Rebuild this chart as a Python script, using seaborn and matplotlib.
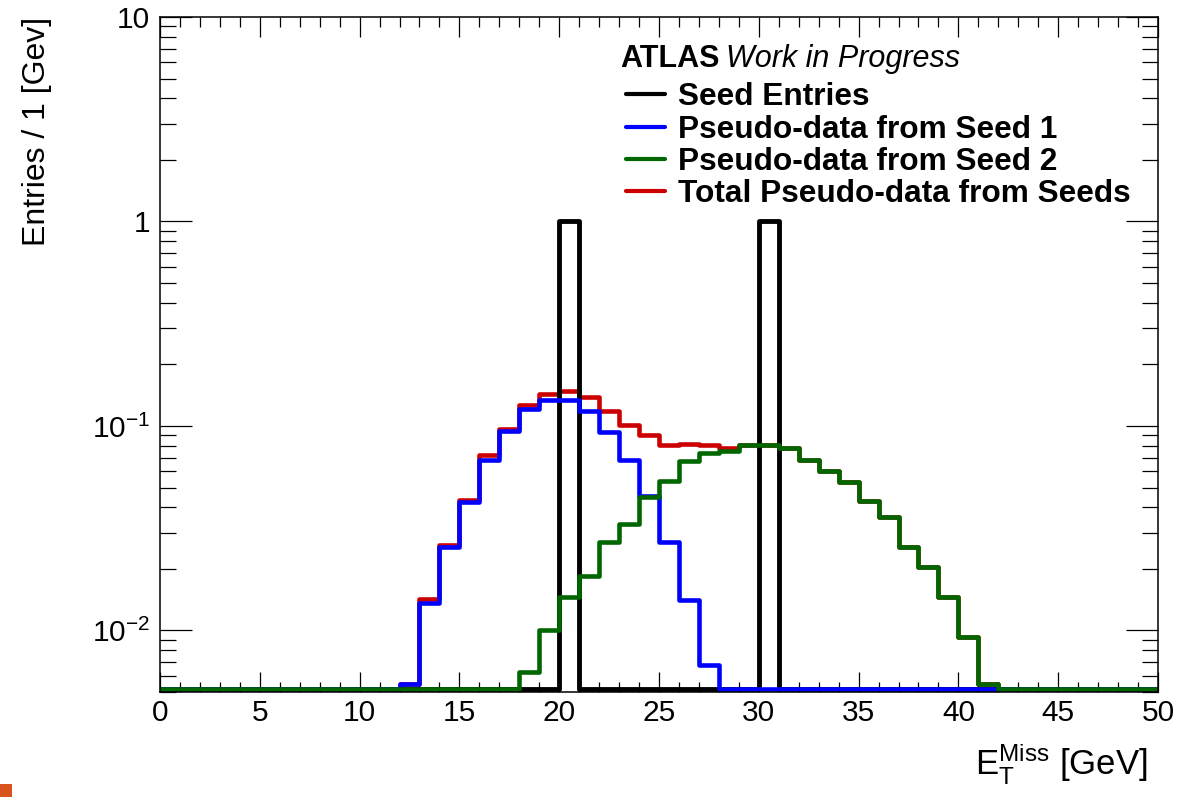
import numpy as np
import pandas as pd
import matplotlib
matplotlib.use("Agg")
import matplotlib.pyplot as plt
from matplotlib.lines import Line2D
from matplotlib.patches import Rectangle
from matplotlib.ticker import FixedLocator, FixedFormatter, LogLocator, MultipleLocator, NullFormatter
import seaborn as sns

# ---- data: 1 GeV bins of missing transverse energy -------------------------
x_range = (0, 50)
bin_width = 1

seed_bins = [20, 30]
seed_values = [1.0, 1.0]

seed1_first_bin = 12
seed1_values = [0.0055, 0.0136, 0.0255, 0.0424, 0.0684, 0.0942, 0.121, 0.1345,
                0.1345, 0.119, 0.093, 0.0684, 0.0452, 0.0272, 0.0141, 0.00676]

seed2_first_bin = 18
seed2_values = [0.00627, 0.0101, 0.0146, 0.0185, 0.0272, 0.0332, 0.0449, 0.0536,
                0.0671, 0.0738, 0.0752, 0.081, 0.081, 0.078, 0.0684, 0.0604,
                0.053, 0.043, 0.0357, 0.0257, 0.0204, 0.0145, 0.0093, 0.00546]

total_first_bin = 12
total_values = [0.0055, 0.01425, 0.0263, 0.0433, 0.072, 0.0967, 0.126, 0.144,
                0.149, 0.138, 0.118, 0.1015, 0.0908, 0.081, 0.082, 0.0805,
                0.078, 0.081, 0.081, 0.078, 0.0684, 0.0604, 0.053, 0.043,
                0.0357, 0.0257, 0.0204, 0.0145, 0.0093, 0.00546]

series_labels = ["Seed Entries", "Pseudo-data from Seed 1",
                 "Pseudo-data from Seed 2", "Total Pseudo-data from Seeds"]
series_colors = ["#000000", "#0000ff", "#006600", "#cc0000"]

y_min, y_max = 0.005, 10.0

n_bins = (x_range[1] - x_range[0]) // bin_width


def fill_bins(first, values, bins=None):
    out = np.zeros(n_bins)
    if bins is None:
        bins = range(first, first + len(values))
    for b, v in zip(bins, values):
        out[b] = v
    return out


centers = x_range[0] + bin_width * (np.arange(n_bins) + 0.5)
hists = {
    "seed": fill_bins(None, seed_values, seed_bins),
    "s1": fill_bins(seed1_first_bin, seed1_values),
    "s2": fill_bins(seed2_first_bin, seed2_values),
    "tot": fill_bins(total_first_bin, total_values),
}
frame = pd.DataFrame({"met": centers, **hists})
# empty bins are drawn just on top of the lower edge of the log axis
baseline = y_min * 1.03
for col in hists:
    frame[col + "_w"] = frame[col].clip(lower=baseline)

# ---- style ------------------------------------------------------------------
sns.set_style("white")
plt.rcParams["font.family"] = ["Liberation Sans", "DejaVu Sans"]
plt.rcParams["mathtext.fontset"] = "custom"
plt.rcParams["mathtext.rm"] = "Liberation Sans"
plt.rcParams["mathtext.it"] = "Liberation Sans:italic"
plt.rcParams["mathtext.bf"] = "Liberation Sans:bold"
for key in ["text.color", "axes.labelcolor", "xtick.color", "ytick.color",
            "axes.edgecolor"]:
    plt.rcParams[key] = "black"

W, H = 1191, 797
fig = plt.figure(figsize=(W / 100, H / 100), dpi=100)
ax = fig.add_axes([160 / W, 1 - 692 / H, (1158 - 160) / W, (692 - 17) / H])
ax.set_yscale("log")


def px(x, y):
    return x / W, 1 - y / H


draw_order = [("tot", series_colors[3], 3.3), ("seed", series_colors[0], 3.5),
              ("s1", series_colors[1], 3.3), ("s2", series_colors[2], 3.3)]
for col, color, lw in draw_order:
    sns.histplot(data=frame, x="met", weights=col + "_w",
                 binwidth=bin_width, binrange=x_range, element="step",
                 fill=False, color=color, linewidth=lw, ax=ax)

ax.set_xlim(*x_range)
ax.set_ylim(y_min, y_max)

# ---- axes, ticks -------------------------------------------------------------
for s in ax.spines.values():
    s.set_linewidth(1.1)
    s.set_color("black")

ax.xaxis.set_major_locator(MultipleLocator(5))
ax.xaxis.set_minor_locator(MultipleLocator(1))
ax.yaxis.set_major_locator(FixedLocator([0.01, 0.1, 1, 10]))
ax.yaxis.set_major_formatter(FixedFormatter([r"$\mathregular{10^{-2}}$",
                                             r"$\mathregular{10^{-1}}$", "1", "10"]))
ax.yaxis.set_minor_locator(LogLocator(base=10, subs=np.arange(2, 10)))
ax.yaxis.set_minor_formatter(NullFormatter())

ax.tick_params(axis="both", which="both", direction="in", top=True, right=True,
               bottom=True, left=True, colors="black", width=0.9)
ax.tick_params(axis="x", which="major", length=14.4, pad=5, labelsize=21.5)
ax.tick_params(axis="x", which="minor", length=7.2)
ax.tick_params(axis="y", which="major", length=23, pad=7, labelsize=21.5)
ax.tick_params(axis="y", which="minor", length=11.5)

ax.set_xlabel(r"$\mathregular{E_{T}^{Miss}}$ [GeV]", fontsize=25, loc="right")
ax.xaxis.set_label_coords(0.99, -0.072)
ax.set_ylabel("Entries / 1 [Gev]", fontsize=23, loc="top")
ax.yaxis.set_label_coords(-0.108, 1.0)

# ---- header and legend -------------------------------------------------------
fig.text(*px(620, 67), "ATLAS", fontsize=22, fontweight="bold", va="baseline")
fig.text(*px(726, 67), "Work in Progress", fontsize=22, fontstyle="italic",
         va="baseline")

key_rows = [94, 127, 159, 191]
for y, label, color in zip(key_rows, series_labels, series_colors):
    x0, yy = px(626, y)
    x1, _ = px(665, y)
    fig.add_artist(Line2D([x0, x1], [yy, yy], color=color, linewidth=3.0,
                          transform=fig.transFigure))
    fig.text(*px(678, y + 11), label, fontsize=22.8, fontweight="bold",
             va="baseline")

fig.add_artist(Rectangle((0, 0), 12 / W, 13 / H, transform=fig.transFigure,
                         facecolor="#d9531e", edgecolor="none"))

fig.savefig("out.png", dpi=100)
